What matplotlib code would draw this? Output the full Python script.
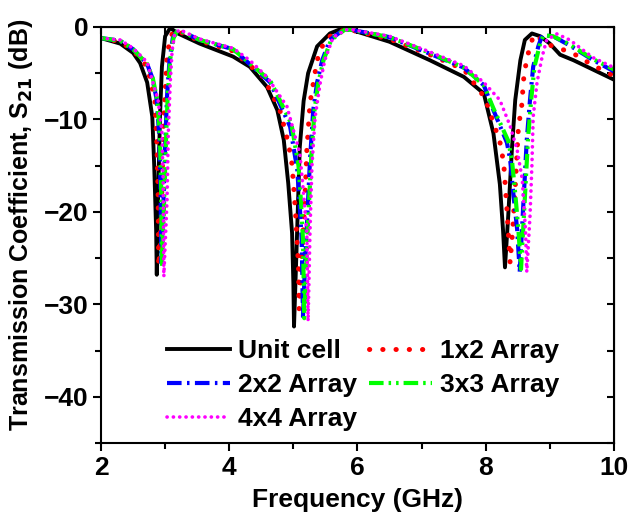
import matplotlib
matplotlib.use('Agg')
import matplotlib.pyplot as plt
from matplotlib.ticker import MultipleLocator
import numpy as np

''' Font settings '''
plt.rcParams['font.family'] = ['Liberation Sans', 'DejaVu Sans']
plt.rcParams['font.weight'] = 'bold'
plt.rcParams['mathtext.default'] = 'bf'
FS = 19

''' Data read off the picture: frequency (GHz) and S21 (dB) '''
f_unit = [2.0, 2.3, 2.5, 2.61, 2.72, 2.8, 2.83, 2.86, 2.87, 2.89, 2.92, 2.95, 3.0, 3.08, 3.2,
          3.54, 4.06, 4.32, 4.59, 4.75, 4.85, 4.92, 4.98, 5.0, 5.01, 5.05, 5.1, 5.16, 5.23,
          5.37, 5.57, 5.78, 5.85, 6.5, 7.13, 7.66, 7.97, 8.12, 8.22, 8.27, 8.3, 8.35, 8.41,
          8.46, 8.54, 8.61, 8.72, 8.85, 9.0, 9.16, 9.37, 10.0]
s_unit = [-1.2, -1.8, -2.8, -3.9, -6.0, -9.7, -15.0, -22.0, -26.8, -18.7, -9.7, -4.3, -1.0, -0.1, -0.7,
          -1.8, -3.2, -4.3, -6.5, -9.0, -12.2, -16.9, -22.3, -27.7, -32.4, -24.0, -13.0, -8.0, -5.0,
          -2.1, -0.7, -0.1, -0.2, -1.6, -3.6, -5.4, -7.2, -11.5, -17.0, -22.0, -26.0, -20.5, -13.0,
          -7.9, -3.6, -1.4, -0.7, -1.0, -1.8, -3.0, -3.6, -5.7]

f_1x2 = [2.0, 2.3, 2.5, 2.72, 2.77, 2.84, 2.87, 2.89, 2.9, 2.92, 2.95, 2.97, 3.0, 3.03, 3.08, 3.15,
         3.54, 4.06, 4.53, 4.79, 4.92, 4.98, 5.03, 5.08, 5.09, 5.13, 5.18, 5.21, 5.26, 5.37, 5.49,
         5.68, 5.88, 6.5, 7.13, 7.66, 7.99, 8.22, 8.28, 8.33, 8.38, 8.42, 8.46, 8.51, 8.56, 8.59,
         8.64, 8.74, 8.78, 8.93, 9.35, 9.66, 10.0]
s_1x2 = [-1.2, -1.6, -2.5, -4.3, -5.7, -7.9, -12.5, -17.6, -25.9, -24.0, -17.6, -11.4, -7.1, -3.2, -1.1, -0.3,
         -1.5, -2.6, -5.4, -9.0, -12.5, -14.9, -19.7, -25.9, -30.5, -25.0, -18.7, -13.3, -8.2, -3.6, -1.4,
         -0.5, -0.3, -1.3, -3.0, -4.6, -7.7, -12.4, -14.7, -19.7, -25.5, -22.0, -17.3, -10.8, -8.6, -5.7,
         -3.4, -1.0, -0.8, -1.8, -2.8, -4.1, -5.3]

f_2x2 = [2.0, 2.3, 2.5, 2.72, 2.8, 2.87, 2.91, 2.93, 2.94, 2.97, 3.0, 3.03, 3.07, 3.12, 3.2,
         3.54, 4.06, 4.64, 4.95, 5.06, 5.1, 5.13, 5.15, 5.18, 5.21, 5.26, 5.31, 5.37, 5.45, 5.57,
         5.78, 5.9, 6.5, 7.13, 7.66, 7.97, 8.12, 8.33, 8.38, 8.43, 8.49, 8.53, 8.59, 8.64, 8.69,
         8.74, 8.82, 8.88, 9.05, 9.31, 9.68, 10.0]
s_2x2 = [-1.2, -1.5, -2.4, -4.0, -5.5, -7.9, -12.0, -18.0, -25.5, -20.0, -13.0, -7.5, -3.5, -1.2, -0.3,
         -1.4, -2.4, -6.0, -10.8, -15.4, -19.4, -23.0, -31.3, -26.0, -21.6, -14.3, -9.0, -6.0, -3.6, -1.4,
         -0.3, -0.3, -1.1, -2.9, -4.4, -6.3, -9.0, -12.5, -14.3, -18.0, -21.9, -26.5, -18.7, -12.2, -7.9,
         -4.3, -2.1, -0.9, -1.0, -2.0, -3.6, -4.8]

f_3x3 = [2.0, 2.3, 2.5, 2.72, 2.81, 2.88, 2.92, 2.94, 2.95, 2.98, 3.01, 3.04, 3.08, 3.13, 3.2,
         3.54, 4.06, 4.64, 4.97, 5.08, 5.12, 5.15, 5.17, 5.2, 5.23, 5.28, 5.33, 5.39, 5.47, 5.59,
         5.8, 5.9, 6.5, 7.13, 7.66, 7.97, 8.12, 8.35, 8.41, 8.46, 8.51, 8.55, 8.61, 8.66, 8.71,
         8.76, 8.84, 8.9, 9.05, 9.31, 9.68, 10.0]
s_3x3 = [-1.2, -1.5, -2.4, -4.0, -5.6, -8.0, -12.0, -18.0, -26.0, -20.0, -13.0, -7.5, -3.5, -1.2, -0.3,
         -1.4, -2.4, -5.8, -10.5, -15.0, -19.0, -23.0, -31.5, -26.0, -21.0, -14.0, -9.0, -6.0, -3.6, -1.4,
         -0.3, -0.3, -1.1, -2.8, -4.4, -6.3, -8.8, -12.3, -14.5, -18.0, -22.0, -26.2, -18.5, -12.0, -7.8,
         -4.3, -2.0, -0.9, -1.0, -1.9, -3.5, -4.6]

f_4x4 = [2.0, 2.3, 2.5, 2.72, 2.81, 2.89, 2.95, 2.97, 2.98, 3.03, 3.05, 3.08, 3.11, 3.15, 3.23,
         3.54, 4.06, 4.32, 4.59, 4.9, 5.03, 5.1, 5.15, 5.21, 5.23, 5.26, 5.29, 5.34, 5.42, 5.49,
         5.62, 5.83, 5.93, 6.5, 7.13, 7.66, 7.97, 8.22, 8.38, 8.49, 8.57, 8.62, 8.64, 8.69, 8.72,
         8.74, 8.8, 8.88, 8.95, 9.11, 9.31, 9.67, 10.0]
s_4x4 = [-1.2, -1.4, -2.3, -3.8, -6.0, -7.9, -11.4, -16.8, -27.0, -18.7, -11.4, -6.0, -2.5, -0.7, -0.3,
         -1.3, -2.3, -3.6, -5.4, -8.6, -11.9, -13.6, -17.3, -22.2, -31.8, -22.0, -15.0, -9.7, -6.0, -3.6,
         -1.1, -0.3, -0.3, -1.0, -2.7, -4.2, -6.0, -7.9, -10.7, -13.3, -16.5, -22.0, -26.5, -20.5, -15.0,
         -9.7, -6.0, -3.2, -1.4, -0.75, -1.4, -3.3, -4.4]

labels = ['Unit cell', '1x2 Array', '2x2 Array', '3x3 Array', '4x4 Array']

''' Figure '''
fig = plt.figure(figsize=(6.32, 5.15), dpi=100)
ax = fig.add_axes([0.1598, 0.1398, 0.8117, 0.8078])

l0, = ax.plot(f_unit, s_unit, color='black', lw=2.8, ls='-', label=labels[0])
l1, = ax.plot(f_1x2, s_1x2, color='#ff0000', lw=3.6, ls=(0, (0.05, 2.6)),
              dash_capstyle='round', label=labels[1])
l2, = ax.plot(f_2x2, s_2x2, color='#0000ff', lw=3.0, ls=(0, (3.5, 1.3, 0.6, 1.3)), label=labels[2])
l3, = ax.plot(f_3x3, s_3x3, color='#00ff00', lw=3.0, ls=(0, (3.5, 1.2, 0.6, 1.2, 0.6, 1.2)),
              label=labels[3])
l4, = ax.plot(f_4x4, s_4x4, color='#ff00ff', lw=2.6, ls=(0, (0.05, 1.7)),
              dash_capstyle='round', label=labels[4])

''' Axes '''
ax.set_xlim(2, 10)
ax.set_ylim(-45, 0)
ax.xaxis.set_major_locator(MultipleLocator(2))
ax.xaxis.set_minor_locator(MultipleLocator(1))
ax.yaxis.set_major_locator(MultipleLocator(10))
ax.yaxis.set_minor_locator(MultipleLocator(5))
ax.tick_params(which='major', direction='out', length=6, width=1.5, labelsize=FS, pad=3)
ax.tick_params(which='minor', direction='out', length=4, width=1.5)
for s in ax.spines.values():
    s.set_linewidth(1.5)

# mirrored ticks pointing inwards on top and right
top = ax.secondary_xaxis('top')
top.set_xticks(np.arange(2, 11, 1))
top.tick_params(direction='in', length=5, width=1.5, labeltop=False)
right = ax.secondary_yaxis('right')
right.set_yticks(np.arange(-45, 1, 5))
right.tick_params(direction='in', length=5, width=1.5, labelright=False)

for t in ax.get_xticklabels() + ax.get_yticklabels():
    t.set_fontweight('bold')

ax.set_xlabel('Frequency (GHz)', fontsize=FS, fontweight='bold', labelpad=6)
ax.set_ylabel('Transmission Coefficient, S$_{21}$ (dB)', fontsize=18, fontweight='bold')
ax.yaxis.set_label_coords(-0.128, 0.524)

''' Legend (row-wise order with 2 columns) '''
ax.legend(handles=[l0, l2, l4, l1, l3], loc='upper left', bbox_to_anchor=(0.128, 0.25),
          ncol=2, frameon=False, handlelength=2.4, handletextpad=0.3,
          columnspacing=0.45, labelspacing=0.38, borderpad=0, borderaxespad=0,
          prop={'weight': 'bold', 'size': FS})

fig.savefig('out.png', dpi=100)
